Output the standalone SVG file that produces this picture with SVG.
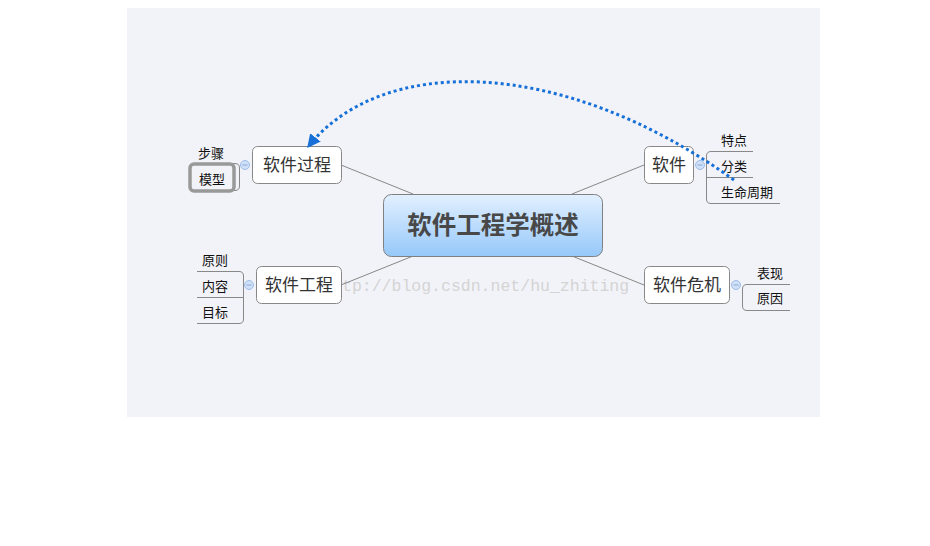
<svg xmlns="http://www.w3.org/2000/svg" width="930" height="546" viewBox="0 0 930 546">
<defs>
<linearGradient id="cg" x1="0" y1="0" x2="0" y2="1">
<stop offset="0" stop-color="#e2f0ff"/>
<stop offset="1" stop-color="#96c8fa"/>
</linearGradient>
<marker id="ah" viewBox="0 0 10 10" refX="9" refY="5" markerWidth="4.5" markerHeight="4.5" orient="auto" markerUnits="strokeWidth">
<path d="M0,0 L10,5 L0,10 z" fill="#1670d8"/>
</marker>
<style>
.cn{font-family:"Noto Sans CJK SC","Liberation Sans",sans-serif;}
.node{fill:#fff;stroke:#888;stroke-width:1;}
.nt{font-size:17px;fill:#333;text-anchor:middle;}
.st{font-size:13px;fill:#111;text-anchor:middle;}
.br{fill:none;stroke:#888;stroke-width:1;}
.ln{stroke:#888;stroke-width:1;fill:none;}
.col{fill:#cfe0f7;stroke:#9dbde9;stroke-width:1;}
.cm{stroke:#8aa9d8;stroke-width:1;}
</style>
</defs>
<rect x="127" y="8" width="693" height="409" fill="#f2f3f8"/>
<text x="342" y="291" font-family="Liberation Mono, monospace" font-size="16.5" fill="#d4d4d4">tp://blog.csdn.net/hu_zhiting</text>
<g id="connectors">
<line class="ln" x1="413" y1="194" x2="341" y2="165"/>
<line class="ln" x1="572" y1="194" x2="644" y2="165"/>
<line class="ln" x1="413" y1="256" x2="341" y2="285"/>
<line class="ln" x1="572" y1="256" x2="644" y2="285"/>
</g>
<g id="center">
<rect x="383.5" y="194.5" width="219" height="62" rx="8" fill="url(#cg)" stroke="#808080"/>
<text class="cn" x="493" y="234" font-size="24.5" font-weight="bold" fill="#484848" text-anchor="middle">软件工程学概述</text>
</g>
<g id="n-process">
<rect class="node" x="252.5" y="146.5" width="89" height="37" rx="5"/>
<text class="cn nt" x="297" y="171">软件过程</text>
<circle class="col" cx="245" cy="165" r="4.5"/>
<line class="cm" x1="242.5" y1="165" x2="247.5" y2="165"/>
<path class="br" d="M197,163.5 H235 Q239.5,163.5 239.5,168 V186 Q239.5,190.5 235,190.5 H197"/>
<text class="cn st" x="211" y="158">步骤</text>
<rect x="190" y="164" width="44" height="27" rx="4" fill="none" stroke="#999" stroke-width="3.5"/>
<text class="cn st" x="212" y="184">模型</text>
</g>
<g id="n-eng">
<rect class="node" x="256.5" y="266.5" width="85" height="37" rx="5"/>
<text class="cn nt" x="299" y="291">软件工程</text>
<circle class="col" cx="249" cy="285" r="4.5"/>
<line class="cm" x1="246.5" y1="285" x2="251.5" y2="285"/>
<path class="br" d="M197,271.5 H239 Q243.5,271.5 243.5,276 V319 Q243.5,323.5 239,323.5 H197"/>
<line class="br" x1="197" y1="297.5" x2="243.5" y2="297.5"/>
<text class="cn st" x="215" y="265">原则</text>
<text class="cn st" x="215" y="291">内容</text>
<text class="cn st" x="215" y="317">目标</text>
</g>
<g id="n-soft">
<rect class="node" x="644.5" y="146.5" width="49" height="37" rx="5"/>
<text class="cn nt" x="669" y="171">软件</text>
<circle class="col" cx="700" cy="165" r="4.5"/>
<line class="cm" x1="697.5" y1="165" x2="702.5" y2="165"/>
<path class="br" d="M753,151.5 H711 Q706.5,151.5 706.5,156 V199 Q706.5,203.5 711,203.5 H780"/>
<line class="br" x1="706.5" y1="177.5" x2="753" y2="177.5"/>
<text class="cn st" x="734" y="145">特点</text>
<text class="cn st" x="734" y="171">分类</text>
<text class="cn st" x="747" y="197">生命周期</text>
</g>
<g id="n-crisis">
<rect class="node" x="644.5" y="266.5" width="85" height="37" rx="5"/>
<text class="cn nt" x="687" y="291">软件危机</text>
<circle class="col" cx="736" cy="285" r="4.5"/>
<line class="cm" x1="733.5" y1="285" x2="738.5" y2="285"/>
<path class="br" d="M790,284.5 H747 Q742.5,284.5 742.5,289 V306 Q742.5,310.5 747,310.5 H790"/>
<text class="cn st" x="770" y="278">表现</text>
<text class="cn st" x="770" y="303">原因</text>
</g>
<g id="relation">
<path d="M734,180 C560,55 380,55 308,147" fill="none" stroke="#1670d8" stroke-width="3" stroke-dasharray="3,3" marker-end="url(#ah)"/>
</g>
</svg>
